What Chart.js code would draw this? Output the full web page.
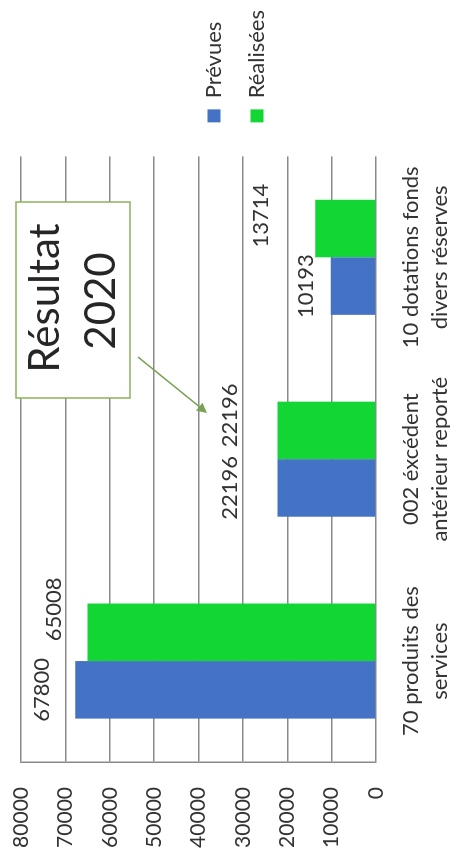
<!DOCTYPE html>
<html>
<head>
<meta charset="utf-8">
<script src="https://cdn.jsdelivr.net/npm/chart.js@4"></script>
<style>
  html, body { margin: 0; padding: 0; background: #fff; overflow: hidden; }
  /* the chart is drawn upright (864x456) and turned a quarter left */
  #wrap {
    position: absolute; left: 0; top: 0;
    width: 864px; height: 456px;
    transform-origin: 0 0;
    transform: translate(0, 864px) rotate(-90deg);
  }
</style>
</head>
<body>
<div id="wrap"><canvas id="myChart" width="864" height="456"></canvas></div>
<script>
const categories = [
  ['70 produits des', 'services'],
  ['002 éxcédent', 'antérieur reporté'],
  ['10 dotations fonds', 'divers réserves']
];
const prevues = [67800, 22196, 10193];
const realisees = [65008, 22196, 13714];
const yTicks = [0, 10000, 20000, 30000, 40000, 50000, 60000, 70000, 80000];

// value labels were moved by hand in the original, keep their offsets
const labelLift = [[33, 48, 25], [34, 48, 54]];
const labelShift = [[0, 0, 0], [23, 15, 13]];

const textColor = '#333333';
const gridColor = '#8a8a8a';

const barLabels = {
  id: 'barLabels',
  afterDatasetsDraw(chart) {
    const ctx = chart.ctx;
    ctx.save();
    ctx.font = '22px Lato';
    ctx.fillStyle = textColor;
    ctx.textAlign = 'center';
    ctx.textBaseline = 'middle';
    chart.data.datasets.forEach((ds, i) => {
      chart.getDatasetMeta(i).data.forEach((bar, j) => {
        ctx.fillText(String(ds.data[j]), bar.x + labelShift[i][j], bar.y - labelLift[i][j]);
      });
    });
    ctx.restore();
  }
};

const note = {
  id: 'note',
  afterDraw(chart) {
    const ctx = chart.ctx;
    ctx.save();
    ctx.fillStyle = '#ffffff';
    ctx.strokeStyle = '#8db25a';
    ctx.lineWidth = 1.5;
    ctx.fillRect(466, 16, 196, 114);
    ctx.strokeRect(466, 16, 196, 114);
    ctx.fillStyle = '#262626';
    ctx.font = '42px Lato';
    ctx.textAlign = 'center';
    ctx.textBaseline = 'middle';
    ctx.fillText('Résultat', 566, 45);
    ctx.fillText('2020', 563, 101);
    // arrow to the 22196 labels
    ctx.strokeStyle = '#7aa255';
    ctx.fillStyle = '#7aa255';
    ctx.lineWidth = 1.5;
    ctx.beginPath();
    ctx.moveTo(507, 138);
    ctx.lineTo(456, 201);
    ctx.stroke();
    ctx.beginPath();
    ctx.moveTo(451, 207);
    ctx.lineTo(461.2, 202.4);
    ctx.lineTo(453.4, 196.1);
    ctx.closePath();
    ctx.fill();
    ctx.restore();
  }
};

const ctx = document.getElementById('myChart').getContext('2d');
new Chart(ctx, {
  type: 'bar',
  data: {
    labels: categories,
    datasets: [{
      label: 'Prévues',
      data: prevues,
      backgroundColor: '#4472C4',
      categoryPercentage: 0.57,
      barPercentage: 1
    }, {
      label: 'Réalisées',
      data: realisees,
      backgroundColor: '#12D633',
      categoryPercentage: 0.57,
      barPercentage: 1
    }]
  },
  options: {
    responsive: false,
    animation: false,
    devicePixelRatio: 1,
    layout: { padding: { top: 21, bottom: 6, left: 0, right: 0 } },
    plugins: {
      legend: {
        position: 'right',
        labels: {
          boxWidth: 13,
          boxHeight: 13,
          padding: 21,
          color: textColor,
          font: { family: 'Lato', size: 22 }
        }
      },
      tooltip: { enabled: false }
    },
    scales: {
      x: {
        grid: { display: false },
        border: { display: false },
        ticks: {
          color: textColor,
          font: { family: 'Lato', size: 22, lineHeight: 1.3 },
          padding: 13,
          maxRotation: 0,
          autoSkip: false
        },
        afterFit(s) { s.height = 74; }
      },
      y: {
        min: 0,
        max: 80000,
        afterBuildTicks(s) { s.ticks = yTicks.map(v => ({ value: v })); },
        ticks: {
          color: textColor,
          font: { family: 'Lato', size: 21 },
          padding: 0,
          callback: v => String(v)
        },
        // invisible tick marks keep the labels away from the plot
        grid: { color: gridColor, lineWidth: 1.5, drawTicks: true, tickLength: 25, tickColor: 'rgba(0,0,0,0)' },
        border: { display: true, color: gridColor, width: 1.5 },
        afterFit(s) { s.width = 102; }
      },
      y2: {
        position: 'right',
        grid: { display: false },
        border: { display: false },
        ticks: { display: false },
        afterFit(s) { s.width = 13; }
      }
    }
  },
  plugins: [barLabels, note]
});
</script>
</body>
</html>
